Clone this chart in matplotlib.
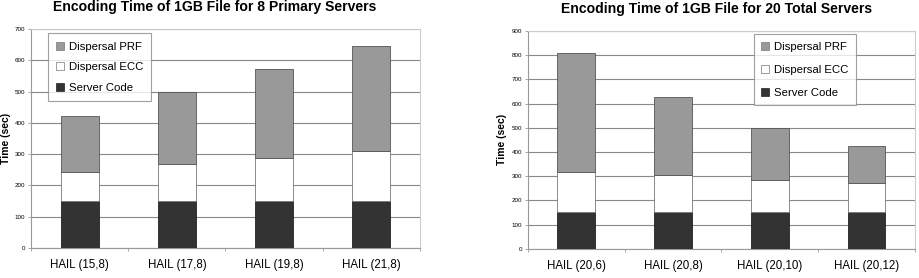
import matplotlib
matplotlib.use("Agg")
import matplotlib.pyplot as plt
import numpy as np
from matplotlib.patches import Patch

plt.rcParams['font.family'] = ['Liberation Sans', 'DejaVu Sans']

# Left chart data
left_title = "Encoding Time of 1GB File for 8 Primary Servers"
left_cats = ["HAIL (15,8)", "HAIL (17,8)", "HAIL (19,8)", "HAIL (21,8)"]
left_server = [150, 150, 150, 150]
left_ecc = [94, 117, 139, 161]
left_prf = [179, 231, 283, 334]
left_yticks = [0, 100, 200, 300, 400, 500, 600, 700]

# Right chart data
right_title = "Encoding Time of 1GB File for 20 Total Servers"
right_cats = ["HAIL (20,6)", "HAIL (20,8)", "HAIL (20,10)", "HAIL (20,12)"]
right_server = [150, 150, 150, 150]
right_ecc = [166, 156, 133, 120]
right_prf = [494, 320, 216, 154]
right_yticks = [0, 100, 200, 300, 400, 500, 600, 700, 800, 900]

series_names = ["Dispersal PRF", "Dispersal ECC", "Server Code"]
c_prf, c_ecc, c_srv = "#999999", "#ffffff", "#333333"

fig = plt.figure(figsize=(9.2, 2.78), dpi=100)

def draw(rect, cats, srv, ecc, prf, yticks, legend_bbox, lspacing, bpad):
    ax = fig.add_axes(rect)
    x = np.arange(len(cats))
    w = 0.39
    srv = np.array(srv); ecc = np.array(ecc); prf = np.array(prf)
    ax.bar(x, srv, w, color=c_srv, edgecolor="#222222", linewidth=0.6, zorder=3)
    ax.bar(x, ecc, w, bottom=srv, color=c_ecc, edgecolor="#777777", linewidth=0.6, zorder=3)
    ax.bar(x, prf, w, bottom=srv + ecc, color=c_prf, edgecolor="#555555", linewidth=0.6, zorder=3)
    ax.set_xlim(-0.5, len(cats) - 0.5)
    ax.set_ylim(0, yticks[-1])
    ax.set_yticks(yticks)
    ax.set_yticklabels([str(t) for t in yticks], fontsize=4.5)
    ax.yaxis.grid(True, color="#888888", linewidth=0.8, zorder=0)
    ax.set_xticks(x)
    ax.set_xticklabels(cats, fontsize=8.3)
    ax.tick_params(axis='x', length=0, pad=8)
    ax.tick_params(axis='y', length=2, width=0.6, color="#999999", pad=2)
    ax.set_xticks(np.arange(len(cats) + 1) - 0.5, minor=True)
    ax.tick_params(axis='x', which='minor', length=2.5, width=0.6, color="#999999", direction='out')
    for s in ['left', 'bottom']:
        ax.spines[s].set_color("#999999")
        ax.spines[s].set_linewidth(0.8)
    for s in ['right', 'top']:
        ax.spines[s].set_color("#cccccc")
        ax.spines[s].set_linewidth(0.8)
    ax.set_ylabel("Time (sec)", fontsize=7.5, fontweight='bold', labelpad=3)
    handles = [Patch(facecolor=c_prf, edgecolor="#777777", linewidth=0.5),
               Patch(facecolor=c_ecc, edgecolor="#777777", linewidth=0.5),
               Patch(facecolor=c_srv, edgecolor="#222222", linewidth=0.5)]
    leg = ax.legend(handles, series_names, loc='upper left', bbox_to_anchor=legend_bbox,
                    fontsize=8.2, frameon=True, fancybox=False, handlelength=0.7, handleheight=0.7,
                    handletextpad=0.4, labelspacing=lspacing, borderpad=bpad, borderaxespad=0)
    leg.get_frame().set_edgecolor("#888888")
    leg.get_frame().set_linewidth(0.8)
    return ax

ax1 = draw([0.0337, 0.108, 0.4228, 0.7877], left_cats, left_server, left_ecc, left_prf,
           left_yticks, (0.044, 0.98), 0.92, 0.72)
ax2 = draw([0.5736, 0.1054, 0.421, 0.7831], right_cats, right_server, right_ecc, right_prf,
           right_yticks, (0.583, 0.985), 1.12, 0.68)

fig.text(215 / 920, 1 - 7 / 278, left_title, ha='center', va='center', fontsize=10.1, fontweight='bold')
fig.text(717 / 920, 1 - 9 / 278, right_title, ha='center', va='center', fontsize=10.1, fontweight='bold')

fig.savefig("out.png", dpi=100)
